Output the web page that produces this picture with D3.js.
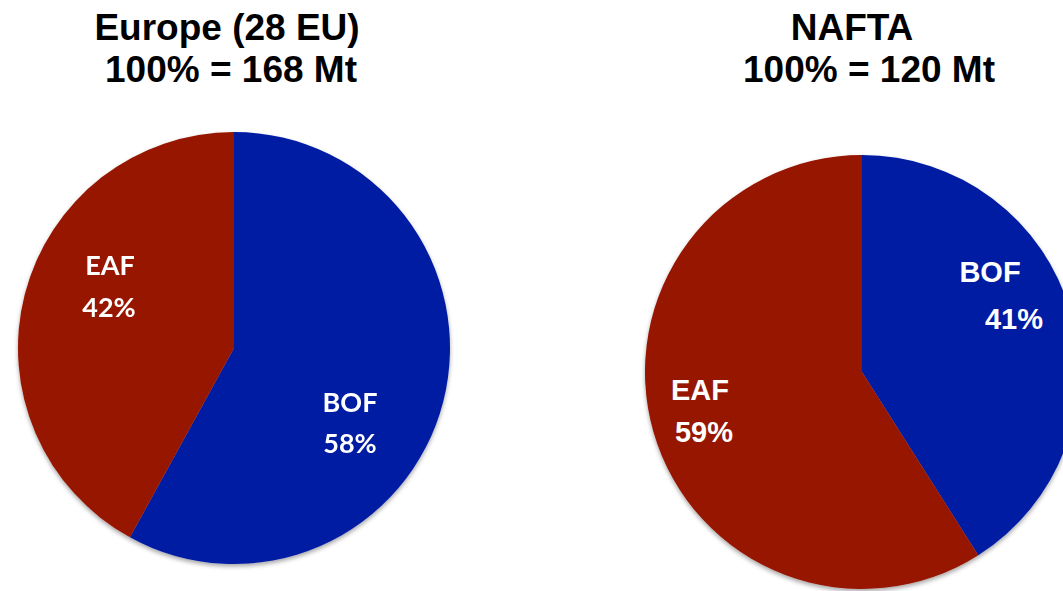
<!DOCTYPE html>
<html>
<head>
<meta charset="utf-8">
<script src="https://cdn.jsdelivr.net/npm/d3@7"></script>
<style>
  html, body { margin: 0; padding: 0; background: #fff; }
  svg { display: block; }
</style>
</head>
<body>
<svg id="chart" width="1063" height="591"></svg>
<script>
// Steel production route shares by region
const regions = ["Europe (28 EU)", "NAFTA"];
const totalsMt = [168, 120];
const routes = ["BOF", "EAF"];
const europeShares = [58, 42];
const naftaShares = [41, 59];

const colors = d3.scaleOrdinal().domain(routes).range(["#001ca3", "#961400"]);

const svg = d3.select("#chart");
const defs = svg.append("defs");

const shadow = defs.append("filter").attr("id", "pieShadow")
  .attr("x", "-10%").attr("y", "-10%").attr("width", "120%").attr("height", "125%");
shadow.append("feDropShadow").attr("dx", 0).attr("dy", 2.5).attr("stdDeviation", 2.2)
  .attr("flood-color", "#000").attr("flood-opacity", 0.35);

const soft = defs.append("filter").attr("id", "soft");
soft.append("feGaussianBlur").attr("stdDeviation", 0.7);

const pie = d3.pie().sort(null).value(d => d.value);

const panels = [
  {
    title: [regions[0], `100% = ${totalsMt[0]} Mt`],
    titleX: [227, 231],
    cx: 234, cy: 348, r: 216,
    shares: europeShares,
    font: "Lato, 'Open Sans', sans-serif", fontSize: 27, weight: 700,
    blur: true,
    labels: { BOF: [[350, 412], [350, 453]], EAF: [[110, 275], [109, 317]] }
  },
  {
    title: [regions[1], `100% = ${totalsMt[1]} Mt`],
    titleX: [852, 869],
    cx: 862, cy: 372, r: 217,
    shares: naftaShares,
    font: "'Liberation Sans', Arial, sans-serif", fontSize: 29, weight: 700,
    blur: false,
    labels: { BOF: [[990, 282], [1014, 329]], EAF: [[700, 400], [704, 442]] }
  }
];

panels.forEach(p => {
  // Title lines
  const t = svg.append("g")
    .attr("font-family", "'Liberation Sans', Arial, sans-serif")
    .attr("font-weight", 700)
    .attr("font-size", 37)
    .attr("fill", "#000")
    .attr("text-anchor", "middle");
  t.append("text").attr("x", p.titleX[0]).attr("y", 40).text(p.title[0]);
  t.append("text").attr("x", p.titleX[1]).attr("y", 82).text(p.title[1]);

  const data = routes.map((k, i) => ({ key: k, value: p.shares[i] }));
  const arcs = pie(data);
  const arc = d3.arc().innerRadius(0).outerRadius(p.r);

  const g = svg.append("g");
  if (p.blur) g.attr("filter", "url(#soft)");

  g.append("g")
    .attr("transform", `translate(${p.cx},${p.cy})`)
    .attr("filter", "url(#pieShadow)")
    .selectAll("path")
    .data(arcs)
    .join("path")
    .attr("d", arc)
    .attr("fill", d => colors(d.data.key));

  const lab = g.append("g")
    .attr("font-family", p.font)
    .attr("font-weight", p.weight)
    .attr("font-size", p.fontSize)
    .attr("fill", "#fff")
    .attr("text-anchor", "middle");

  arcs.forEach(a => {
    const pos = p.labels[a.data.key];
    lab.append("text").attr("x", pos[0][0]).attr("y", pos[0][1]).text(a.data.key);
    lab.append("text").attr("x", pos[1][0]).attr("y", pos[1][1]).text(`${a.data.value}%`);
  });
});
</script>
</body>
</html>
